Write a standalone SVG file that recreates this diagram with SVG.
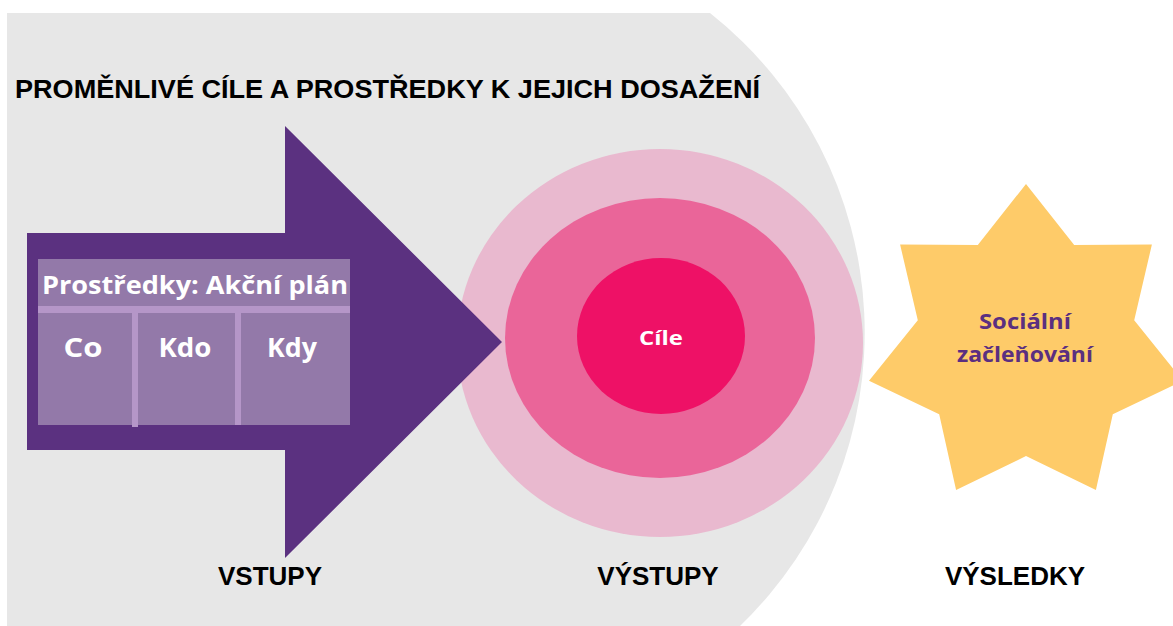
<svg xmlns="http://www.w3.org/2000/svg" width="1173" height="626" viewBox="0 0 1173 626">
<style>
.title{font-family:"Liberation Sans",Arial,sans-serif;font-weight:bold;font-size:25px;fill:#000}
.lbl{font-family:"Liberation Sans",Arial,sans-serif;font-weight:bold;font-size:26px;fill:#000;text-anchor:middle}
.tbl{font-family:"Open Sans","Liberation Sans",sans-serif;font-weight:bold;fill:#fff;text-anchor:middle}
.star{font-family:"Open Sans","Liberation Sans",sans-serif;font-weight:bold;font-size:21px;fill:#5B2F80;text-anchor:middle}
.sep{fill:#B596C8}
</style>
<rect width="1173" height="626" fill="#fff"/>
<g id="background">
<path d="M7,13 L710,13 A407.5,407.5 0 0 1 740,626 L7,626 Z" fill="#E7E7E7"/>
</g>
<text class="title" x="15" y="98" textLength="745" lengthAdjust="spacingAndGlyphs">PROMĚNLIVÉ CÍLE A PROSTŘEDKY K JEJICH DOSAŽENÍ</text>
<g id="vystupy">
<ellipse cx="660" cy="343" rx="203" ry="194" fill="#E9B9CF"/>
<ellipse cx="660" cy="338" rx="155" ry="140" fill="#EA6599"/>
<ellipse cx="661" cy="336" rx="84" ry="78" fill="#EE1166"/>
<text class="tbl" x="661" y="345" font-size="19" textLength="44" lengthAdjust="spacingAndGlyphs">Cíle</text>
<text class="lbl" x="658" y="585">VÝSTUPY</text>
</g>
<g id="vstupy">
<path d="M27,233 L285,233 L285,126 L502,342 L285,558 L285,450 L27,450 Z" fill="#5B3180"/>
<g id="akcni-plan">
<rect x="38" y="259" width="312" height="166" fill="#9379A9"/>
<rect class="sep" x="38" y="306" width="312" height="7"/>
<rect class="sep" x="132" y="313" width="6" height="114"/>
<rect class="sep" x="235" y="313" width="6" height="112"/>
<text class="tbl" x="195" y="294" font-size="25" textLength="306" lengthAdjust="spacingAndGlyphs">Prostředky: Akční plán</text>
<text class="tbl" x="83" y="357" font-size="27" textLength="39" lengthAdjust="spacingAndGlyphs">Co</text>
<text class="tbl" x="185" y="357" font-size="27" textLength="53" lengthAdjust="spacingAndGlyphs">Kdo</text>
<text class="tbl" x="292" y="357" font-size="27" textLength="50" lengthAdjust="spacingAndGlyphs">Kdy</text>
</g>
<text class="lbl" x="270" y="585">VSTUPY</text>
</g>
<g id="vysledky">
<polygon points="1026,184 1074.2,245 1151.9,244.6 1134.2,320.3 1183,380.8 1112.8,414.2 1095.9,490.1 1026,456 956.1,490.1 939.2,414.2 869,380.8 917.8,320.3 900.1,244.6 977.8,245" fill="#FECB69"/>
<text class="star" x="1025" y="329" textLength="92" lengthAdjust="spacingAndGlyphs">Sociální</text>
<text class="star" x="1025" y="362" textLength="136" lengthAdjust="spacingAndGlyphs">začleňování</text>
<text class="lbl" x="1015" y="585">VÝSLEDKY</text>
</g>
<g id="connectors"></g>
</svg>
